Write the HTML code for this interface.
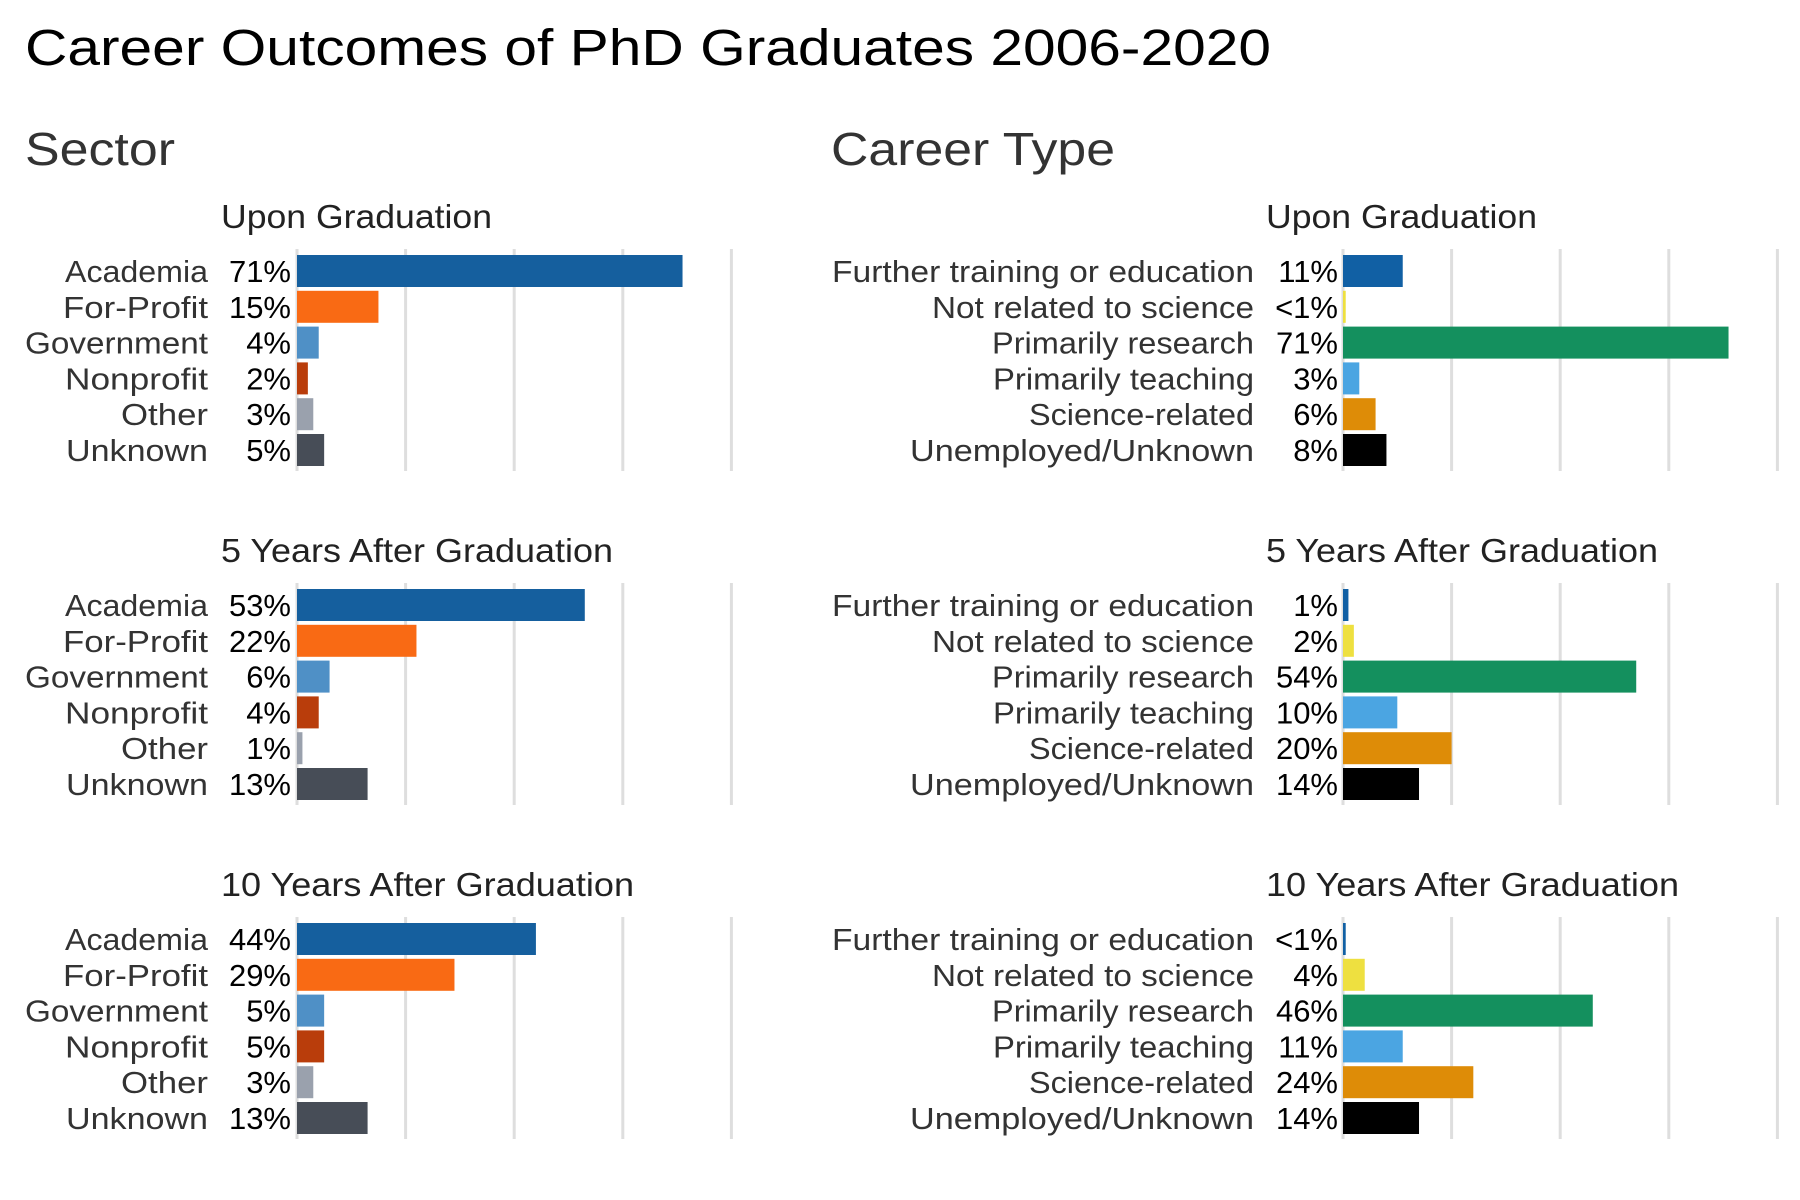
<!DOCTYPE html>
<html><head><meta charset="utf-8"><style>html,body{margin:0;padding:0;background:#fff}svg{display:block}</style></head>
<body>
<svg width="1800" height="1200" viewBox="0 0 1800 1200" xmlns="http://www.w3.org/2000/svg">
<g font-family="Liberation Sans, sans-serif">
<text x="25" y="65" font-size="51" fill="#000" textLength="1246" lengthAdjust="spacingAndGlyphs">Career Outcomes of PhD Graduates 2006-2020</text>
<text x="25" y="165" font-size="46" fill="#333" textLength="150" lengthAdjust="spacingAndGlyphs">Sector</text>
<text x="831" y="165" font-size="46" fill="#333" textLength="284" lengthAdjust="spacingAndGlyphs">Career Type</text>
</g>
<g id="c" font-family="Liberation Sans, sans-serif"></g>
<script>
(function(){
var g=document.getElementById('c');var ns='http://www.w3.org/2000/svg';
function el(t,a,txt){var e=document.createElementNS(ns,t);for(var k in a)e.setAttribute(k,a[k]);if(txt!=null)e.textContent=txt;g.appendChild(e);return e;}
var subs=[['Upon Graduation',271],['5 Years After Graduation',392],['10 Years After Graduation',413]];
var sec={x0:297,labR:208,pctR:291,subX:221,
 cats:[['Academia',143],['For-Profit',145],['Government',183],['Nonprofit',143],['Other',87],['Unknown',142]],
 cols:['#155f9e','#f96a14','#4f90c6','#b93d0b','#9aa1ad','#474d57'],
 vals:[[71,15,4,2,3,5],[53,22,6,4,1,13],[44,29,5,5,3,13]]};
var car={x0:1343,labR:1254,pctR:1338,subX:1266,
 cats:[['Further training or education',422],['Not related to science',322],['Primarily research',262],['Primarily teaching',261],['Science-related',225],['Unemployed/Unknown',344]],
 cols:['#1160a4','#eee040','#14905e','#4ba5e2','#de8c07','#000000'],
 vals:[[11,0.5,71,3,6,8],[1,2,54,10,20,14],[0.5,4,46,11,24,14]]};
var pcts={car:[['11%','<1%','71%','3%','6%','8%'],['1%','2%','54%','10%','20%','14%'],['<1%','4%','46%','11%','24%','14%']]};
var sc=5.43;
[sec,car].forEach(function(p,pi){
 for(var r=0;r<3;r++){
  var oy=r*334;
  el('text',{x:p.subX,y:228+oy,'font-size':33,fill:'#222',textLength:subs[r][1],lengthAdjust:'spacingAndGlyphs'},subs[r][0]);
  for(var k=0;k<5;k++){var gx=p.x0+k*108.6;el('rect',{x:gx-1.5,y:249+oy,width:3,height:222,fill:'#dedede'});}
  for(var i=0;i<6;i++){
   var cy=271+oy+i*35.8;var v=p.vals[r][i];
   el('rect',{x:p.x0,y:cy-16,width:Math.max(v*sc,2),height:32,fill:p.cols[i]});
   var c=p.cats[i];
   el('text',{x:p.labR,y:cy+11,'font-size':31,fill:'#333','text-anchor':'end',textLength:c[1],lengthAdjust:'spacingAndGlyphs'},c[0]);
   var pt=pi==0?(v+'%'):pcts.car[r][i];
   el('text',{x:p.pctR,y:cy+11,'font-size':31,fill:'#000','text-anchor':'end'},pt);
  }
 }
});
})();
</script>
</svg>
</body></html>
